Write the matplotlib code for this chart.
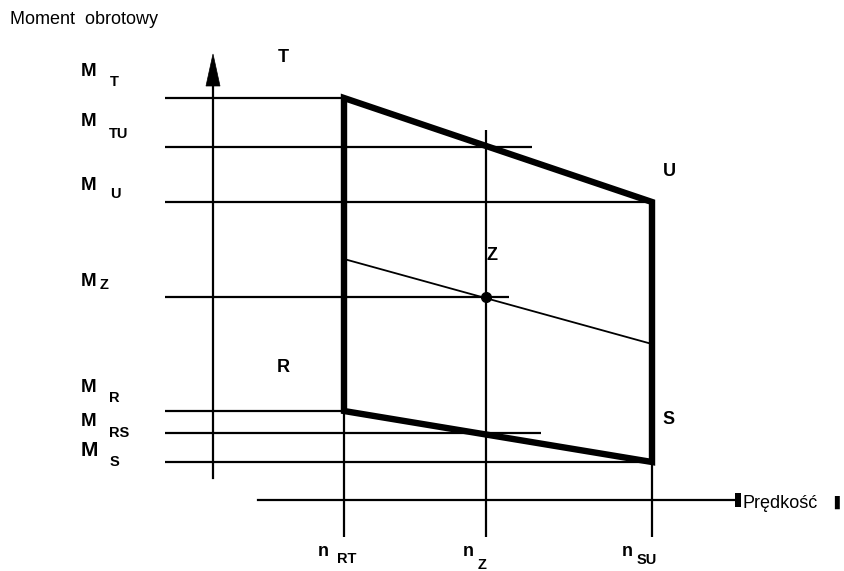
import matplotlib
matplotlib.use("Agg")
import matplotlib.pyplot as plt
from matplotlib.patches import Polygon, Rectangle

plt.rcParams['font.family'] = ['Liberation Sans', 'DejaVu Sans']

# ---- data (abstract units: speed along x, torque along y) ----
speed_names = ["RT", "Z", "SU"]
speed_values = [1.31, 2.73, 4.39]          # n_RT, n_Z, n_SU

torque_names = ["T", "TU", "U", "Z", "R", "RS", "S"]
torque_values = [4.02, 3.53, 2.98, 2.03, 0.89, 0.67, 0.38]

# corner points of the operating area (speed, torque)
corner_labels = ["T", "U", "S", "R"]
corner_speed = [1.31, 4.39, 4.39, 1.31]
corner_torque = [4.02, 2.98, 0.38, 0.89]

# line through the operating point Z
z_line_speed = [1.31, 4.39]
z_line_torque = [2.41, 1.56]
z_point = (2.73, 2.03)

# ---- layout helpers ----
W, H = 844, 571
X0, Y0, S = 213, 500, 100.0


def px(x, y):
    """pixel position in the picture -> data coordinates (for text layout)."""
    return (x - X0) / S, (Y0 - y) / S


fig = plt.figure(figsize=(W / 100, H / 100), dpi=100)
ax = fig.add_axes([0, 0, 1, 1])
ax.set_xlim(px(0, 0)[0], px(W, 0)[0])
ax.set_ylim(px(0, H)[1], px(0, 0)[1])
ax.axis('off')

LW = 1.6
left_x = px(165, 0)[0]
tm = dict(zip(torque_names, torque_values))
sp = dict(zip(speed_names, speed_values))

# horizontal reference lines for torque levels
line_end = {
    "T": sp["RT"], "TU": px(532, 0)[0], "U": sp["SU"], "Z": px(509, 0)[0],
    "R": sp["RT"], "RS": px(541, 0)[0], "S": sp["SU"],
}
for name, val in zip(torque_names, torque_values):
    ax.plot([left_x, line_end[name]], [val, val], color='black', lw=LW,
            solid_capstyle='butt')

# vertical reference lines for speeds
line_top = {"RT": tm["T"], "Z": px(0, 130)[1], "SU": tm["U"]}
bottom_y = px(0, 537)[1]
for name, val in zip(speed_names, speed_values):
    ax.plot([val, val], [bottom_y, line_top[name]], color='black', lw=LW,
            solid_capstyle='butt')

# torque axis with arrow
ax.plot([0, 0], [px(0, 478)[1], px(0, 84)[1]], color='black', lw=LW)
ax.add_patch(Polygon([px(206, 86), px(220, 86), px(213, 54)], closed=True,
                     facecolor='black', edgecolor='black', lw=0.5))
# speed axis with square end
ax.plot([px(258, 0)[0], px(736, 0)[0]], [0, 0], color='black', lw=LW)
rx0, ry0 = px(735, 507)
rx1, ry1 = px(741, 493)
ax.add_patch(Rectangle((rx0, ry0), rx1 - rx0, ry1 - ry0, facecolor='black'))

# thick operating-area outline
ax.add_patch(Polygon(list(zip(corner_speed, corner_torque)), closed=True,
                     fill=False, edgecolor='black', lw=4.6, joinstyle='miter'))

# line through Z
ax.plot(z_line_speed, z_line_torque, color='black', lw=1.3)
ax.plot([z_point[0]], [z_point[1]], 'o', color='black', ms=7)

# ---- texts ----
ax.text(*px(10, 20), "Moment  obrotowy", fontsize=13, ha='left', va='center')
ax.text(*px(742, 504), "Prędkość", fontsize=13, ha='left', va='center')
ax.text(*px(834, 502), "\u258c", fontsize=9, ha='left', va='center',
        fontweight='bold', family=['DejaVu Sans'])

# M labels: (M center y, subscript left x, subscript center y)
m_label_pos = {
    "T": (71, 110, 82), "TU": (122, 109, 134), "U": (185, 110, 194),
    "Z": (282, 100, 285), "R": (387, 109, 398), "RS": (421, 109, 433),
    "S": (451, 110, 462),
}
m_size = {"T": 13.5, "TU": 13.5, "U": 13.5, "Z": 13.5, "R": 13.5, "RS": 13.5,
          "S": 15}
for name in torque_names:
    my, sx, sy = m_label_pos[name]
    ax.text(*px(81, my), "M", fontsize=m_size[name], fontweight='bold',
            ha='left', va='center')
    ax.text(*px(sx, sy), name, fontsize=10.5, fontweight='bold',
            ha='left', va='center')

# n labels
n_label_pos = {"RT": (318, 551, 337, 559), "Z": (463, 551, 478, 565),
               "SU": (622, 551, 637, 560)}
for name in speed_names:
    nx, ny, sx, sy = n_label_pos[name]
    ax.text(*px(nx, ny), "n", fontsize=13, fontweight='bold',
            ha='left', va='center')
    ax.text(*px(sx, sy), name, fontsize=10.5, fontweight='bold',
            ha='left', va='center')

# corner letters
corner_text_pos = {"T": (283, 57), "U": (669, 171), "Z": (492, 255),
                   "R": (283, 367), "S": (669, 420)}
for name, (x, y) in corner_text_pos.items():
    ax.text(*px(x, y), name, fontsize=13, fontweight='bold',
            ha='center', va='center')

fig.savefig("out.png", dpi=100)
